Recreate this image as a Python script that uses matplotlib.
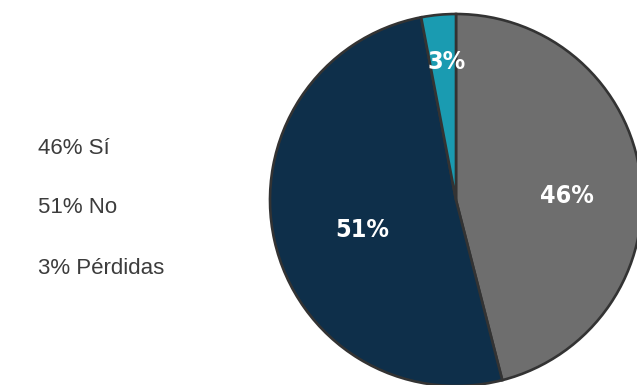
import matplotlib.pyplot as plt

labels = ['Sí', 'No', 'Pérdidas']
values = [46, 51, 3]
colors = ['#6e6e6e', '#0e2f4a', '#1a9bb1']

# where the percentage text sits inside each wedge (axes data units, radius 1)
label_pos = [(0.597, 0.022), (-0.505, -0.161), (-0.048, 0.742)]

W, H = 637, 385
fig = plt.figure(figsize=(W / 100, H / 100), dpi=100)

# pie centre at (456, 200) px, radius 186 px
cx, cy, r = 456, 200, 186
ax = fig.add_axes([(cx - r) / W, (H - cy - r) / H, 2 * r / W, 2 * r / H])
ax.pie(values, colors=colors, startangle=90, counterclock=False,
       radius=1, wedgeprops=dict(edgecolor='#333333', linewidth=1.9))
ax.set_xlim(-1, 1)
ax.set_ylim(-1, 1)
ax.set_aspect('auto')
ax.axis('off')

for v, (x, y) in zip(values, label_pos):
    ax.text(x, y, f'{v}%', ha='center', va='center', color='white',
            fontsize=18, fontweight='heavy', fontstretch='condensed',
            family='DejaVu Sans')

# text legend on the left
for i, (lab, v) in enumerate(zip(labels, values)):
    fig.text(38 / W, 1 - (148 + 60 * i) / H, f'{v}% {lab}', ha='left', va='center',
             fontsize=16, color='#3c3c3c', family=['Liberation Sans', 'DejaVu Sans'])

fig.savefig('out.png', dpi=100)
